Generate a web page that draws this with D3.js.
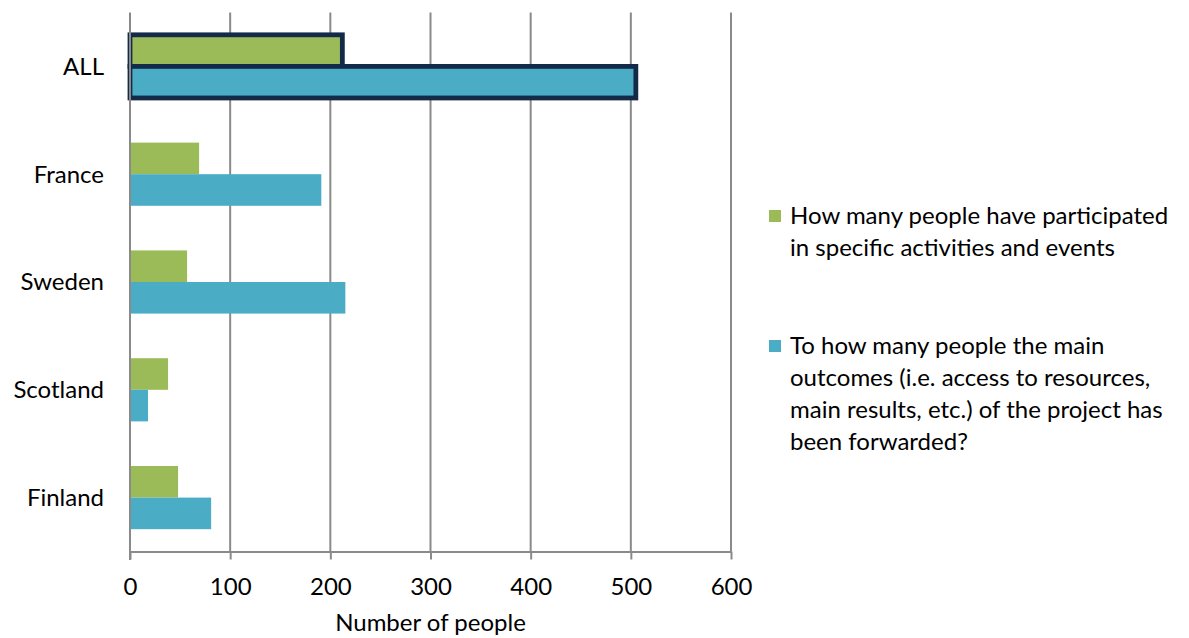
<!DOCTYPE html>
<html>
<head>
<meta charset="utf-8">
<script src="https://cdn.jsdelivr.net/npm/d3@7/dist/d3.min.js"></script>
<style>
  html, body { margin: 0; padding: 0; background: #fff; }
  svg { display: block; }
  text { font-family: "Lato", "Open Sans", sans-serif; fill: #000; }
</style>
</head>
<body>
<svg id="chart" width="1189" height="638"></svg>
<script>
// Categories (top to bottom) and the two series
const categories = ["ALL", "France", "Sweden", "Scotland", "Finland"];
const participated = [212, 69, 57, 38, 48];
const forwarded = [505, 191, 215, 18, 81];
const xTicks = [0, 100, 200, 300, 400, 500, 600];
const seriesNames = [
  ["How many people have participated", "in specific activities and events"],
  ["To how many people the main", "outcomes (i.e. access to resources,", "main results, etc.) of the project has", "been forwarded?"]
];
const seriesColors = ["#9BBB59", "#4BACC6"];
const xTitle = "Number of people";

const fontSize = 24;
const svg = d3.select("#chart");

const x = d3.scaleLinear().domain([0, 600]).range([130, 731]);
const y = d3.scaleBand().domain(categories).range([12.5, 551.5])
  .paddingInner(0.414).paddingOuter(0.207);
const sub = d3.scaleBand().domain([0, 1]).range([0, y.bandwidth()]);

// vertical gridlines
svg.append("g").selectAll("line").data(xTicks.slice(1)).join("line")
  .attr("x1", d => x(d)).attr("x2", d => x(d))
  .attr("y1", 12.5).attr("y2", 551.5)
  .attr("stroke", "#8a8a8a").attr("stroke-width", 2);

// bars
const rows = categories.map((c, i) => ({ c, vals: [participated[i], forwarded[i]] }));
const g = svg.append("g");
rows.forEach(r => {
  r.vals.forEach((v, k) => {
    g.append("rect")
      .attr("x", x(0))
      .attr("y", y(r.c) + sub(k))
      .attr("width", x(v) - x(0))
      .attr("height", sub.bandwidth())
      .attr("fill", seriesColors[k])
      .attr("stroke", r.c === "ALL" ? "#132B48" : "none")
      .attr("stroke-width", r.c === "ALL" ? 4.8 : 0);
  });
});

// category axis (left)
svg.append("line")
  .attr("x1", x(0)).attr("x2", x(0))
  .attr("y1", 12.5).attr("y2", 560)
  .attr("stroke", "#8a8a8a").attr("stroke-width", 2);

svg.append("g").selectAll("text").data(categories).join("text")
  .attr("x", 104)
  .attr("y", d => y(d) + y.bandwidth() / 2)
  .attr("dy", "0.35em")
  .attr("text-anchor", "end")
  .attr("font-size", fontSize)
  .text(d => d);

// value axis (bottom)
const xAxis = d3.axisBottom(x).tickValues(xTicks).tickSize(8).tickPadding(18).tickSizeOuter(0);
const ax = svg.append("g").attr("transform", "translate(0,551.5)").call(xAxis);
ax.select(".domain").attr("stroke", "#8a8a8a").attr("stroke-width", 2);
ax.selectAll(".tick line").attr("stroke", "#8a8a8a").attr("stroke-width", 2);
ax.selectAll(".tick text").attr("font-size", fontSize).attr("font-family", "Lato, 'Open Sans', sans-serif").attr("fill", "#000");

svg.append("text")
  .attr("x", (x(0) + x(600)) / 2)
  .attr("y", 631)
  .attr("text-anchor", "middle")
  .attr("font-size", fontSize)
  .text(xTitle);

// legend
const legendTop = [216, 346];
const lineH = 32;
seriesNames.forEach((lines, k) => {
  const lg = svg.append("g");
  lg.append("rect")
    .attr("x", 769).attr("y", legendTop[k] - 6)
    .attr("width", 12).attr("height", 12)
    .attr("fill", seriesColors[k]);
  lg.selectAll("text").data(lines).join("text")
    .attr("x", 790)
    .attr("y", (d, i) => legendTop[k] + i * lineH)
    .attr("dy", "0.35em")
    .attr("font-size", fontSize)
    .text(d => d);
});
</script>
</body>
</html>
